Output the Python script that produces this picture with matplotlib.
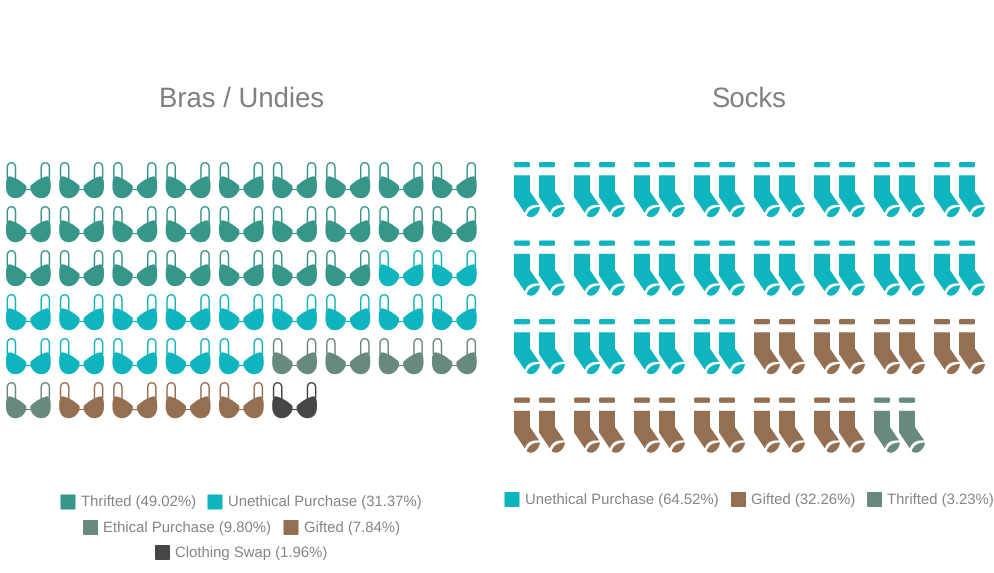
import matplotlib
matplotlib.use("Agg")
from matplotlib import pyplot as plt
from matplotlib.path import Path
from matplotlib.patches import PathPatch, FancyBboxPatch
from matplotlib.transforms import Affine2D

plt.rcParams['font.family'] = ['Liberation Sans', 'DejaVu Sans']
plt.rcParams['text.hinting'] = 'none'

bra_labels = ["Thrifted", "Unethical Purchase", "Ethical Purchase", "Gifted", "Clothing Swap"]
bra_counts = [25, 16, 5, 4, 1]
bra_pct = ["49.02%", "31.37%", "9.80%", "7.84%", "1.96%"]
bra_colors = ["#36968A", "#0FB5BE", "#68897F", "#946F51", "#464646"]

sock_labels = ["Unethical Purchase", "Gifted", "Thrifted"]
sock_counts = [20, 10, 1]
sock_pct = ["64.52%", "32.26%", "3.23%"]
sock_colors = ["#0FB5BE", "#946F51", "#68897F"]

M, L, C, Z = Path.MOVETO, Path.LINETO, Path.CURVE4, Path.CLOSEPOLY


# icon shapes, in pixels from the top left of the icon
def bra_paths():
    cup = Path([(0.0, 25.0), (-0.2, 19.0), (0.3, 14.8), (3.5, 14.3),
                (8.0, 15.0), (15.0, 18.5), (20.3, 24.0), (20.3, 27.5),
                (19.0, 31.5), (15.5, 36.2), (9.5, 36.2),
                (3.0, 36.2), (-0.1, 31.0), (0.0, 25.0), (0.0, 25.0)],
               [M, C, C, C, C, C, C, L, C, C, C, C, C, C, Z])
    strap = Path([(1.3, 16.0), (1.3, 6.0), (1.3, 6.0),
                  (1.3, 2.2), (3.2, 0.8), (5.5, 0.8),
                  (7.8, 0.8), (9.5, 2.2), (9.5, 6.0), (9.5, 18.0)],
                 [M, L, L, C, C, C, C, C, C, L])
    bridge = Path([(19.0, 26.7), (26.0, 26.7)], [M, L])
    return cup, strap, bridge


def sock_paths():
    leg = Path([(0.0, 13.3), (16.0, 13.3), (16.0, 29.5), (25.3, 43.0),
                (19.0, 42.5), (13.5, 43.5), (10.8, 51.0), (0.0, 35.0), (0.0, 13.3)],
               [M, L, L, L, C, C, C, L, Z])
    toe = Path([(12.7, 53.7), (13.5, 49.5), (17.5, 45.0), (26.0, 45.0),
                (25.5, 51.0), (19.0, 58.5), (12.7, 53.7), (12.7, 53.7)],
               [M, C, C, C, C, C, C, Z])
    return leg, toe


def expand(counts, colors):
    out = []
    for n, c in zip(counts, colors):
        out += [c] * n
    return out


fig = plt.figure(figsize=(9.95, 5.73), dpi=100)
ax = fig.add_axes([0, 0, 1, 1])
ax.set_xlim(0, 995)
ax.set_ylim(573, 0)
ax.axis("off")

ax.text(241.8, 99, "Bras / Undies", color="#808080", fontsize=19.8, ha="center", va="center")
ax.text(749.5, 99, "Socks", color="#808080", fontsize=19.8, ha="center", va="center")

# bras
cup, strap, bridge = bra_paths()
for i, col in enumerate(expand(bra_counts, bra_colors)):
    x0 = 6 + (i % 9) * 53.25
    y0 = 162 + (i // 9) * 44
    here = Affine2D().translate(x0, y0)
    flip = Affine2D().scale(-1, 1).translate(x0 + 44.7, y0)
    for t in (here, flip):
        ax.add_patch(PathPatch(cup.transformed(t), fc=col, ec="none"))
        ax.add_patch(PathPatch(strap.transformed(t), fc="none", ec=col, lw=1.05))
    ax.add_patch(PathPatch(bridge.transformed(here), fc="none", ec=col, lw=0.8))

# socks
leg, toe = sock_paths()
for i, col in enumerate(expand(sock_counts, sock_colors)):
    x0 = 514 + (i % 8) * 60
    y0 = 162 + (i // 8) * 78.5
    for dx in (0, 25):
        ax.add_patch(FancyBboxPatch((x0 + dx, y0), 16, 5.3, boxstyle="round,pad=0,rounding_size=1.5",
                                    fc=col, ec="none"))
        t = Affine2D().translate(x0 + dx, y0)
        ax.add_patch(PathPatch(leg.transformed(t), fc=col, ec="none"))
        ax.add_patch(PathPatch(toe.transformed(t), fc=col, ec="none"))


def legend_item(x, y, label, pct, col):
    ax.add_patch(FancyBboxPatch((x, y - 7.5), 15, 15, boxstyle="round,pad=0,rounding_size=1", fc=col, ec="none"))
    ax.text(x + 20.3, y + 0.5, "%s (%s)" % (label, pct), color="#858585", fontsize=10.75, ha="left", va="center")


bra_spots = [(60.5, 502), (207.5, 502), (83, 527.5), (283.5, 527.5), (155, 552.5)]
for (x, y), lab, p, c in zip(bra_spots, bra_labels, bra_pct, bra_colors):
    legend_item(x, y, lab, p, c)

sock_spots = [(504.5, 499.5), (731, 499.5), (867, 499.5)]
for (x, y), lab, p, c in zip(sock_spots, sock_labels, sock_pct, sock_colors):
    legend_item(x, y, lab, p, c)

fig.savefig("out.png", dpi=100)
